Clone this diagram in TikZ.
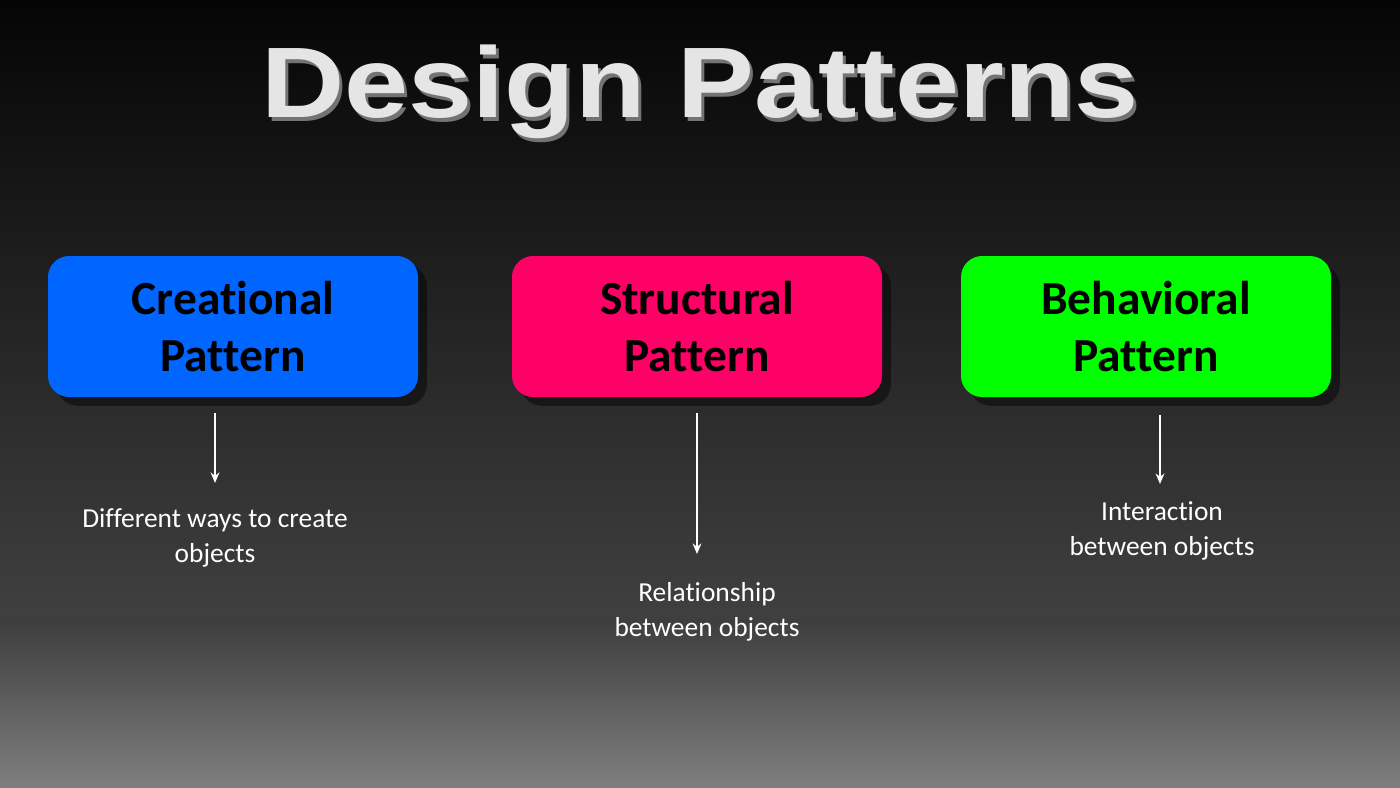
\documentclass[tikz,border=0pt]{standalone}
\usepackage{fontspec}
\setmainfont{Carlito}[Ligatures=NoCommon]
\newfontfamily\titlefont{Liberation Sans}
\usetikzlibrary{shadows,arrows.meta}
\definecolor{cblue}{HTML}{0066FF}
\definecolor{cpink}{HTML}{FF0066}
\definecolor{cgreen}{HTML}{00FF00}
\tikzset{
  patbox/.style={rounded corners=6pt, minimum width=370*0.01cm, minimum height=141*0.01cm,
    align=center, font=\fontsize{13.5}{16}\selectfont\bfseries, text=black,
    drop shadow={shadow xshift=2.5pt, shadow yshift=-2.5pt, fill=black, opacity=0.45}},
  desc/.style={align=center, text=white, font=\fontsize{7.8}{10}\selectfont},
  arr/.style={white, line width=0.5pt, -{Stealth[length=3pt,width=2.5pt]}}
}
\begin{document}
\begin{tikzpicture}[x=0.01cm,y=-0.01cm]
\useasboundingbox (0,0) rectangle (1400,788);
\shade[top color=black!98, bottom color=black!75] (0,0) rectangle (1400,620);
\shade[top color=black!76, bottom color=black!50] (0,619) rectangle (1400,788);
% title
\node[xscale=1.15, text=black!55, font=\titlefont\fontsize{28.5}{34}\selectfont\bfseries] at (703,96) {Design Patterns};
\node[xscale=1.15, text=black!10, font=\titlefont\fontsize{28.5}{34}\selectfont\bfseries] (title) at (700,92) {Design Patterns};
% boxes
\node[patbox, fill=cblue] (cre) at (233,326.5) {Creational\\Pattern};
\node[patbox, fill=cpink] (str) at (697,326.5) {Structural\\Pattern};
\node[patbox, fill=cgreen] (beh) at (1146,326.5) {Behavioral\\Pattern};
% descriptions
\node[desc] (d1) at (215,538) {Different ways to create\\objects};
\node[desc] (d2) at (707,612) {Relationship\\between objects};
\node[desc] (d3) at (1162,531) {Interaction\\between objects};
% arrows
\coordinate (a1s) at (215,413); \coordinate (a1e) at (215,483);
\coordinate (a2s) at (697,413); \coordinate (a2e) at (697,554);
\coordinate (a3s) at (1160,415); \coordinate (a3e) at (1160,484);
\draw[arr] (a1s) -- (a1e);
\draw[arr] (a2s) -- (a2e);
\draw[arr] (a3s) -- (a3e);
\end{tikzpicture}
\end{document}
